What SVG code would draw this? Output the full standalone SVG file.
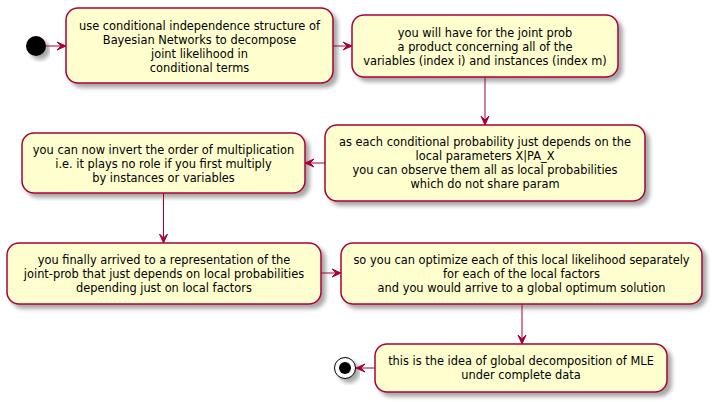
<svg xmlns="http://www.w3.org/2000/svg" width="712" height="402" viewBox="0 0 712 402">
  <defs>
    <filter id="shadow" x="-10%" y="-10%" width="130%" height="140%">
      <feGaussianBlur in="SourceAlpha" stdDeviation="2"/>
      <feOffset dx="4" dy="4" result="off"/>
      <feComponentTransfer><feFuncA type="linear" slope="0.35"/></feComponentTransfer>
      <feMerge><feMergeNode/><feMergeNode in="SourceGraphic"/></feMerge>
    </filter>
    <marker id="arrow" viewBox="0 0 10 10" refX="10" refY="5" markerWidth="10" markerHeight="10" markerUnits="userSpaceOnUse" orient="auto">
      <polygon points="10,5 1,1 5,5 1,9" fill="#A80036" stroke="#A80036" stroke-width="1"/>
    </marker>
  </defs>
  <style>
    .act { fill: #FEFECE; stroke: #A80036; stroke-width: 1.5; filter: url(#shadow); }
    .lbl { font-family: "DejaVu Sans", "Liberation Sans", sans-serif; font-size: 11.4px; fill: #000; text-anchor: middle; }
    .edge { stroke: #A80036; stroke-width: 1; fill: none; marker-end: url(#arrow); }
  </style>

  <g id="start">
    <circle cx="36" cy="46" r="10" fill="#000" filter="url(#shadow)"/>
  </g>

  <g id="decompose">
    <rect class="act" x="66" y="8" width="267" height="75" rx="12"/>
    <text class="lbl" x="199.5" y="30">use conditional independence structure of</text>
    <text class="lbl" x="199.5" y="44">Bayesian Networks to decompose</text>
    <text class="lbl" x="199.5" y="58">joint likelihood in</text>
    <text class="lbl" x="199.5" y="72">conditional terms</text>
  </g>

  <g id="joint-prob">
    <rect class="act" x="352" y="15" width="266" height="62" rx="12"/>
    <text class="lbl" x="485" y="37">you will have for the joint prob</text>
    <text class="lbl" x="485" y="51">a product concerning all of the</text>
    <text class="lbl" x="485" y="65">variables (index i) and instances (index m)</text>
  </g>

  <g id="local-params">
    <rect class="act" x="325" y="125" width="320" height="76" rx="12"/>
    <text class="lbl" x="485" y="146">as each conditional probability just depends on the</text>
    <text class="lbl" x="485" y="160">local parameters X|PA_X</text>
    <text class="lbl" x="485" y="174">you can observe them all as local probabilities</text>
    <text class="lbl" x="485" y="188">which do not share param</text>
  </g>

  <g id="invert-order">
    <rect class="act" x="22" y="133" width="283" height="60" rx="12"/>
    <text class="lbl" x="163.5" y="154">you can now invert the order of multiplication</text>
    <text class="lbl" x="163.5" y="168">i.e. it plays no role if you first multiply</text>
    <text class="lbl" x="163.5" y="182">by instances or variables</text>
  </g>

  <g id="representation">
    <rect class="act" x="7" y="243" width="314" height="61" rx="12"/>
    <text class="lbl" x="164" y="264">you finally arrived to a representation of the</text>
    <text class="lbl" x="164" y="278">joint-prob that just depends on local probabilities</text>
    <text class="lbl" x="164" y="292">depending just on local factors</text>
  </g>

  <g id="optimize">
    <rect class="act" x="341" y="243" width="361" height="61" rx="12"/>
    <text class="lbl" x="521.5" y="264">so you can optimize each of this local likelihood separately</text>
    <text class="lbl" x="521.5" y="278">for each of the local factors</text>
    <text class="lbl" x="521.5" y="292">and you would arrive to a global optimum solution</text>
  </g>

  <g id="global-decomposition">
    <rect class="act" x="375" y="344" width="292" height="48" rx="12"/>
    <text class="lbl" x="521" y="365">this is the idea of global decomposition of MLE</text>
    <text class="lbl" x="521" y="379">under complete data</text>
  </g>

  <g id="end">
    <circle cx="345" cy="368" r="10.5" fill="#fff" stroke="#000" stroke-width="1" filter="url(#shadow)"/>
    <circle cx="345" cy="368" r="6" fill="#000"/>
  </g>

  <g id="connectors">
    <line class="edge" x1="46" y1="46" x2="66" y2="46"/>
    <line class="edge" x1="333" y1="46" x2="352" y2="46"/>
    <line class="edge" x1="485" y1="77" x2="485" y2="125"/>
    <line class="edge" x1="325" y1="163" x2="305" y2="163"/>
    <line class="edge" x1="163.5" y1="193" x2="163.5" y2="243"/>
    <line class="edge" x1="321" y1="273" x2="341" y2="273"/>
    <line class="edge" x1="522" y1="304" x2="522" y2="344"/>
    <line class="edge" x1="375" y1="368" x2="356" y2="368"/>
  </g>
</svg>
